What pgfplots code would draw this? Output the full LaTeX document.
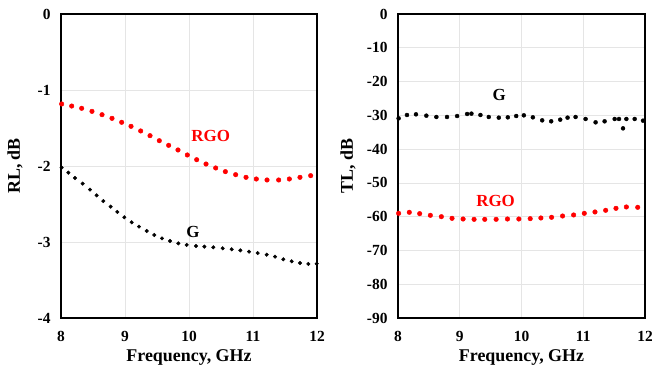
\documentclass[border=0pt]{standalone}
\usepackage{fontspec}
\setmainfont{Liberation Serif}
\usepackage{pgfplots}
\pgfplotsset{compat=1.18}
\definecolor{rgored}{RGB}{255,0,0}
\begin{document}
\begin{tikzpicture}
\useasboundingbox (0,0) rectangle (652bp,368bp);
\pgfplotsset{common/.style={
  scale only axis, height=304bp,
  xmin=8, xmax=12, xtick={8,9,10,11,12},
  grid=major, major grid style={black!10, line width=0.7pt},
  axis line style={line width=1.3pt},
  tick style={draw=none},
  ticklabel style={font=\bfseries\fontsize{15.5}{17}\selectfont},
  xticklabel style={yshift=-10bp},
  yticklabel style={xshift=-7bp},
  label style={font=\bfseries\fontsize{18}{20}\selectfont},
  /pgf/number format/assume math mode=true,
  xlabel={Frequency, GHz},
  clip=false,
  xlabel style={at={(axis description cs:0.5,0)}, anchor=center, yshift=-39bp},
}}
\begin{axis}[common, anchor=south west, at={(61bp,50bp)}, width=256bp,
  ymin=-4, ymax=0, ytick={-4,-3,-2,-1,0}, ylabel={RL, dB},
  ylabel style={at={(axis description cs:-0.18,0.5)}, anchor=center}]
\addplot[only marks, mark=*, mark size=2.3bp, color=rgored] coordinates {
(8.01,-1.184)(8.167,-1.211)(8.323,-1.241)(8.484,-1.281)(8.641,-1.325)(8.797,-1.373)
(8.948,-1.425)(9.094,-1.478)(9.245,-1.539)(9.391,-1.601)(9.536,-1.667)(9.682,-1.728)
(9.828,-1.789)(9.974,-1.855)(10.12,-1.917)(10.266,-1.974)(10.417,-2.026)(10.568,-2.074)
(10.729,-2.114)(10.891,-2.149)(11.052,-2.171)(11.219,-2.184)(11.401,-2.184)(11.568,-2.171)
(11.734,-2.149)(11.901,-2.127)};
\addplot[only marks, mark=*, mark size=1.8bp, color=black] coordinates {
(8.01,-2.022)(8.115,-2.088)(8.219,-2.158)(8.339,-2.232)(8.453,-2.311)(8.557,-2.386)
(8.661,-2.461)(8.776,-2.535)(8.880,-2.605)(8.990,-2.675)(9.104,-2.741)(9.219,-2.798)
(9.339,-2.855)(9.458,-2.908)(9.578,-2.952)(9.703,-2.987)(9.833,-3.018)(9.964,-3.039)
(10.109,-3.053)(10.24,-3.061)(10.38,-3.070)(10.526,-3.083)(10.667,-3.096)(10.802,-3.110)
(10.938,-3.127)(11.073,-3.145)(11.214,-3.167)(11.344,-3.193)(11.474,-3.228)(11.604,-3.254)
(11.734,-3.276)(11.865,-3.289)(11.995,-3.285)};
\node[text=rgored, font=\bfseries\fontsize{17}{19}\selectfont] at (axis cs:10.34,-1.6) {RGO};
\node[text=black, font=\bfseries\fontsize{17}{19}\selectfont] at (axis cs:10.06,-2.87) {G};
\end{axis}
\begin{axis}[common, anchor=south west, at={(398bp,50bp)}, width=247bp,
  ymin=-90, ymax=0, ytick={-90,-80,...,0}, ylabel={TL, dB},
  ylabel style={at={(axis description cs:-0.2024,0.5)}, anchor=center}]
\addplot[only marks, mark=*, mark size=2.3bp, color=rgored] coordinates {
(8.01,-59.01)(8.183,-58.71)(8.351,-59.11)(8.524,-59.60)(8.702,-60.00)(8.875,-60.49)
(9.054,-60.69)(9.232,-60.79)(9.405,-60.79)(9.589,-60.79)(9.773,-60.69)(9.957,-60.69)
(10.141,-60.59)(10.314,-60.39)(10.487,-60.19)(10.665,-59.80)(10.844,-59.50)(11.017,-59.01)
(11.19,-58.61)(11.363,-58.12)(11.53,-57.53)(11.698,-57.13)(11.882,-57.23)};
\addplot[only marks, mark=*, mark size=2.0bp, color=black] coordinates {
(8.01,-30.89)(8.145,-29.90)(8.291,-29.70)(8.459,-30.10)(8.621,-30.49)(8.794,-30.49)
(8.957,-30.20)(9.119,-29.60)(9.189,-29.50)(9.335,-29.90)(9.47,-30.49)(9.632,-30.69)
(9.778,-30.59)(9.914,-30.20)(10.038,-30.00)(10.184,-30.59)(10.335,-31.48)(10.481,-31.77)
(10.627,-31.28)(10.746,-30.69)(10.876,-30.49)(11.038,-31.08)(11.2,-32.07)(11.346,-31.77)
(11.509,-31.08)(11.579,-31.08)(11.644,-33.85)(11.698,-31.08)(11.833,-31.08)(11.968,-31.58)};
\node[text=rgored, font=\bfseries\fontsize{17}{19}\selectfont] at (axis cs:9.58,-55.4) {RGO};
\node[text=black, font=\bfseries\fontsize{17}{19}\selectfont] at (axis cs:9.64,-24) {G};
\end{axis}
\end{tikzpicture}
\end{document}
